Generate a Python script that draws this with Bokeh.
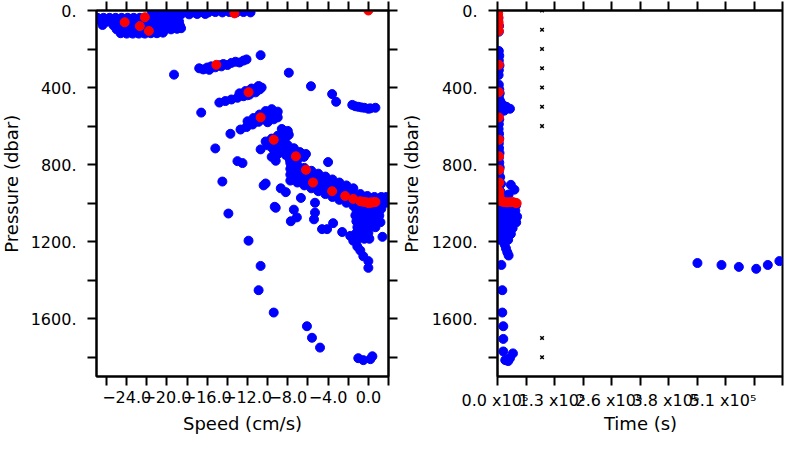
import math
from bokeh.plotting import figure
from bokeh.layouts import row, column
from bokeh.models import Range1d, FixedTicker, LinearAxis
from bokeh.core.properties import value
from bokeh.embed import file_html
from bokeh.resources import INLINE

# ---------------- data ----------------
blue_top = [
    (-26.9, 38), (-26.3, 38), (-25.7, 38), (-25.1, 38), (-24.5, 38), (-23.9, 38), (-23.3, 38),
    (-22.7, 38), (-22.1, 38), (-21.5, 38), (-20.9, 38), (-20.3, 38), (-19.7, 38), (-19.1, 38),
    (-26.5, 58), (-25.9, 58), (-25.3, 58), (-24.7, 58), (-24.1, 58), (-23.5, 58), (-22.9, 58),
    (-22.3, 58), (-21.7, 58), (-21.1, 58), (-20.5, 58), (-19.9, 58), (-19.3, 58), (-18.8, 58),
    (-26.4, 75), (-25.3, 78), (-24.7, 78), (-24.1, 78), (-23.5, 78), (-22.9, 78), (-22.3, 78),
    (-21.7, 78), (-21.1, 78), (-20.5, 78), (-19.9, 78), (-19.3, 78), (-18.7, 80),
    (-25.0, 98), (-24.4, 98), (-23.8, 98), (-23.2, 98), (-22.6, 98), (-22.0, 98), (-21.4, 98),
    (-20.8, 98), (-20.2, 98), (-19.6, 98), (-19.0, 95), (-18.6, 92),
    (-24.6, 118), (-24.0, 120), (-23.4, 120), (-22.8, 120), (-22.2, 120), (-21.6, 118),
    (-21.0, 118), (-20.4, 115),
    (-21.5, 10), (-20.8, 8), (-20.1, 10), (-19.4, 8), (-18.7, 10), (-18.0, 8), (-17.3, 10),
    (-16.6, 8), (-15.9, 10), (-15.2, 8), (-14.5, 10), (-13.8, 8), (-13.1, 10), (-12.4, 8),
    (-11.7, 10), (-21.0, 22), (-20.2, 20), (-19.4, 22), (-18.6, 20), (-17.8, 20), (-17.0, 18),
    (-16.2, 18),
]
blue_300 = [
    (-16.8, 300), (-16.4, 306), (-16.0, 296), (-15.6, 290), (-15.2, 295), (-14.8, 284),
    (-14.4, 278), (-14.0, 283), (-13.6, 272), (-13.2, 266), (-12.8, 270), (-12.4, 260),
    (-12.1, 254), (-15.8, 308), (-14.6, 290),
]
blue_420 = [
    (-14.8, 478), (-14.2, 470), (-13.6, 462), (-13.0, 453), (-12.4, 445), (-11.8, 437),
    (-11.2, 425), (-10.8, 410), (-11.0, 398), (-11.6, 405), (-12.2, 418), (-12.8, 430),
    (-12.0, 440), (-11.4, 415), (-10.6, 400), (-10.9, 392),
]
blue_550 = [
    (-12.7, 618), (-12.1, 605), (-11.5, 592), (-10.9, 578), (-10.3, 565), (-9.7, 552),
    (-9.1, 540), (-9.0, 525), (-9.6, 512), (-10.2, 522), (-10.8, 540), (-11.4, 558),
    (-12.0, 575), (-10.0, 580), (-9.4, 565), (-9.0, 555),
]
blue_700 = [
    (-8.6, 615), (-8.0, 625), (-8.4, 640), (-9.0, 650), (-9.6, 665), (-10.2, 680), (-9.0, 670),
    (-8.2, 660), (-7.9, 645), (-8.6, 685), (-9.4, 695), (-10.0, 700), (-8.0, 700), (-7.4, 715),
    (-8.2, 720), (-9.0, 725), (-9.5, 715), (-6.8, 735), (-7.4, 745), (-8.2, 750), (-9.0, 745),
    (-6.4, 760), (-7.0, 770), (-7.8, 775), (-6.2, 745), (-9.6, 760), (-9.2, 780),
]
blue_band = [
    (-7.75, 792), (-7.75, 822), (-7.75, 852), (-7.75, 883),
    (-7.05, 802), (-7.05, 832), (-7.05, 862), (-7.05, 893),
    (-6.36, 817), (-6.36, 847), (-6.36, 877), (-6.36, 908),
    (-5.66, 832), (-5.66, 862), (-5.66, 893), (-5.66, 923),
    (-4.97, 847), (-4.97, 877), (-4.97, 908), (-4.97, 938),
    (-4.27, 862), (-4.27, 893), (-4.27, 923), (-4.27, 953),
    (-3.57, 877), (-3.57, 908), (-3.57, 938), (-3.57, 968),
    (-2.88, 893), (-2.88, 923), (-2.88, 953), (-2.88, 983),
    (-2.18, 908), (-2.18, 938), (-2.18, 968), (-2.18, 998),
    (-1.49, 923), (-1.49, 953), (-1.49, 983), (-1.49, 1014),
    (-0.79, 953), (-0.79, 983), (-0.79, 1014),
    (-0.10, 963), (-0.10, 993), (-0.10, 1024),
    (0.60, 968), (0.60, 998), (0.60, 1029),
    (1.29, 968), (1.29, 998), (1.29, 1029),
    (1.79, 968), (1.79, 998),
]
blue_deep = [
    (-1.19, 1034), (-0.60, 1034), (0.00, 1034), (0.60, 1034), (1.09, 1034),
    (-1.29, 1064), (-0.70, 1064), (-0.10, 1064), (0.50, 1064), (1.09, 1064),
    (-1.19, 1094), (-0.60, 1094), (0.00, 1094), (0.60, 1094),
    (-1.09, 1125), (-0.50, 1125), (0.10, 1125), (0.70, 1125),
    (-1.19, 1155), (-0.60, 1155), (0.00, 1155),
    (-0.99, 1185), (-0.40, 1185), (0.10, 1185),
]
blue_strays = [
    (-10.7, 232), (-19.3, 333), (-7.9, 323), (-5.7, 393), (-3.6, 434), (-3.2, 474),
    (-1.6, 490), (-1.3, 497), (-1.0, 500), (-0.7, 503), (-0.4, 505), (0.0, 510), (0.2, 508),
    (0.7, 505), (-16.6, 530), (-13.7, 640), (-15.2, 716), (-10.7, 721), (-9.5, 716),
    (-13.0, 782), (-12.5, 792), (-14.5, 888), (-4.0, 787),
    (-10.4, 908), (-10.2, 898), (-8.7, 923), (-8.2, 943), (-9.3, 1019), (-9.2, 1024),
    (-7.4, 1034), (-7.7, 1094), (-7.1, 1074), (-6.7, 973), (-5.3, 998), (-5.3, 1049),
    (-5.4, 1084), (-4.6, 1135), (-4.1, 1135), (-3.5, 1104), (-2.6, 1150), (-1.8, 1170),
    (-1.5, 1195), (-1.1, 1225), (-0.8, 1246), (-0.5, 1276), (0.0, 1301), (0.0, 1336),
    (1.4, 1175), (1.2, 1099), (1.5, 993),
    (-13.9, 1054), (-11.9, 1195), (-10.7, 1326), (-10.9, 1452), (-9.4, 1568),
    (-6.1, 1639), (-5.6, 1699), (-4.8, 1750),
    (-1.0, 1805), (-0.5, 1815), (0.2, 1810), (0.4, 1795),
]

red_speed = [0.0, -13.3, -22.2, -24.2, -22.7, -21.8, -15.1, -11.9, -10.7, -9.4, -7.2, -6.2,
             -5.5, -3.6, -2.3, -1.5, -0.8, -0.5, -0.2, 0.2, 0.5, 0.7, 0.3, 0.0]
red_pressure = [0, 15, 35, 61, 81, 106, 282, 424, 555, 671, 757, 827,
                893, 938, 963, 978, 990, 993, 995, 996, 995, 994, 998, 1000]
red_time = [1000, 1500, 2000, 2500, 2500, 3000, 3000, 3000, 3000, 3500, 3500, 4000,
            4000, 4000, 4500, 5000, 8000, 12000, 17000, 22000, 28000, 34000, 40000, 43000]

time_blue = [
    (2000, 40), (3500, 80), (3000, 110),
    (3000, 210), (4000, 235), (3000, 260), (4500, 285), (3000, 310), (2500, 335),
    (3000, 385), (4000, 410), (5000, 430), (3000, 450), (6000, 470),
    (12000, 490), (20000, 500), (28000, 510), (15000, 520), (9000, 500),
    (3000, 540), (4000, 565), (3000, 590), (2500, 615), (3500, 640), (4000, 665),
    (3000, 690), (3500, 715), (4500, 740), (3000, 765), (4000, 790), (5000, 815),
    (3000, 840), (6000, 865), (4000, 885), (8000, 900), (3000, 920), (7000, 940),
    (5000, 955), (10000, 965), (4000, 975), (30000, 905), (38000, 930), (25000, 955),
    (15000, 975),
    (3000, 1010), (12000, 1010), (22000, 1010), (32000, 1010), (42000, 1010),
    (3000, 1040), (10000, 1040), (20000, 1040), (30000, 1040), (40000, 1040),
    (3000, 1070), (12000, 1070), (22000, 1070), (32000, 1070), (44000, 1070),
    (3000, 1100), (10000, 1100), (20000, 1100), (30000, 1100), (42000, 1100),
    (4000, 1130), (12000, 1130), (22000, 1130), (34000, 1130),
    (4000, 1160), (12000, 1160), (22000, 1160), (30000, 1160),
    (5000, 1190), (14000, 1190), (24000, 1190),
    (16000, 1215), (19000, 1235), (22000, 1255), (25000, 1272),
    (8700, 1321), (10800, 1452), (10800, 1568), (13000, 1639), (13000, 1705),
    (13000, 1770), (17400, 1815), (23900, 1820), (34700, 1780), (28000, 1805),
    (449000, 1311), (503000, 1321), (542000, 1331), (581000, 1341), (607000, 1321),
    (633000, 1301),
]

cross_time = [100000] * 9
cross_pressure = [0, 100, 200, 300, 400, 500, 600, 1700, 1800]

pressure_ticks = [0, 400, 800, 1200, 1600]
pressure_minor = [200, 600, 1000, 1400, 1800]
pressure_labels = ["0.", "400.", "800.", "1200.", "1600."]
speed_ticks = [-24, -20, -16, -12, -8, -4, 0]
speed_minor = [-26, -22, -18, -14, -10, -6, -2, 2]
speed_labels = ["\u221224.0", "\u221220.0", "\u221216.0", "\u221212.0", "\u22128.0", "\u22124.0", "0.0"]
time_ticks = [0, 128000, 256000, 384000, 512000]
time_minor = [64000, 192000, 320000, 448000, 576000, 640000]
time_labels = ["0.0  x10\u2075", "1.3  x10\u2075", "2.6  x10\u2075", "3.8  x10\u2075", "5.1  x10\u2075"]
x_titles = ["Speed (cm/s)", "Time (s)"]
y_title = "Pressure (dbar)"

FONT = "DejaVu Sans"
BLUE = "#0000ff"
RED = "#ff0000"
MAIN_H = 412      # height of the two plot panels
TITLE_H = 22      # strip with the x-axis titles below them
STRIP_W = 22      # strips with the y-axis titles


def style_axis(ax, standoff):
    ax.axis_line_color = "black"
    ax.axis_line_width = 2
    ax.major_tick_line_color = "black"
    ax.minor_tick_line_color = "black"
    ax.major_tick_line_width = 2
    ax.minor_tick_line_width = 2
    ax.major_tick_out = 9
    ax.major_tick_in = 0
    ax.minor_tick_out = 9
    ax.minor_tick_in = 0
    ax.major_label_text_font = FONT
    ax.major_label_text_font_size = "16px"
    ax.major_label_text_color = "black"
    ax.major_label_standoff = standoff


def ticks_only(ax, ticks):
    style_axis(ax, 0)
    ax.major_label_overrides = {t: "" for t in ticks}
    ax.major_label_text_font_size = "1px"


def blank_fig(width, height):
    f = figure(width=width, height=height, output_backend="svg", toolbar_location=None,
               x_range=Range1d(0, width), y_range=Range1d(0, height),
               x_axis_type=None, y_axis_type=None, min_border=0)
    f.grid.visible = False
    f.outline_line_color = None
    f.background_fill_color = "white"
    f.border_fill_color = "white"
    return f


def y_title_strip():
    f = blank_fig(STRIP_W, MAIN_H)
    f.text(x=[STRIP_W / 2], y=[MAIN_H - 195], text=[y_title], angle=math.pi / 2,
           text_font=value(FONT), text_font_size="18px", text_color="black",
           text_align="center", text_baseline="middle")
    return f


def make_fig(width, xr, border_left, border_right):
    p = figure(width=width, height=MAIN_H, output_backend="svg", toolbar_location=None,
               x_range=xr, y_range=Range1d(1900, 0),
               min_border_left=border_left, min_border_right=border_right,
               min_border_top=10, min_border_bottom=32)
    p.grid.visible = False
    p.outline_line_color = "black"
    p.outline_line_width = 2
    p.background_fill_color = "white"
    p.border_fill_color = "white"
    return p


# ---------------- left panel ----------------
p1 = make_fig(378, Range1d(-27, 2), 74, 12)
blue_left = blue_top + blue_300 + blue_420 + blue_550 + blue_700 + blue_band + blue_deep + blue_strays
p1.scatter([b[0] for b in blue_left], [b[1] for b in blue_left], size=9,
           fill_color=BLUE, line_color=BLUE)
p1.scatter(red_speed, red_pressure, size=9, fill_color=RED, line_color=RED)

p1.xaxis.ticker = FixedTicker(ticks=speed_ticks, minor_ticks=speed_minor)
p1.xaxis.major_label_overrides = dict(zip(speed_ticks, speed_labels))
style_axis(p1.xaxis[0], 5)
p1.yaxis.ticker = FixedTicker(ticks=pressure_ticks, minor_ticks=pressure_minor)
p1.yaxis.major_label_overrides = dict(zip(pressure_ticks, pressure_labels))
style_axis(p1.yaxis[0], 11)

ax = LinearAxis(ticker=FixedTicker(ticks=pressure_ticks, minor_ticks=pressure_minor))
ticks_only(ax, pressure_ticks)
p1.add_layout(ax, "right")
ax = LinearAxis(ticker=FixedTicker(ticks=speed_ticks, minor_ticks=speed_minor))
ticks_only(ax, speed_ticks)
p1.add_layout(ax, "above")

# ---------------- right panel ----------------
p2 = make_fig(362, Range1d(0, 640000), 75, 2)
p2.scatter([b[0] for b in time_blue], [b[1] for b in time_blue], size=9,
           fill_color=BLUE, line_color=BLUE)
p2.scatter(red_time, red_pressure, size=9, fill_color=RED, line_color=RED)
p2.scatter(cross_time, cross_pressure, marker="x", size=5, line_color="black", line_width=1.5)

p2.xaxis.ticker = FixedTicker(ticks=time_ticks, minor_ticks=time_minor)
p2.xaxis.major_label_overrides = dict(zip(time_ticks, time_labels))
style_axis(p2.xaxis[0], 5)
p2.yaxis.ticker = FixedTicker(ticks=pressure_ticks, minor_ticks=pressure_minor)
p2.yaxis.major_label_overrides = dict(zip(pressure_ticks, pressure_labels))
style_axis(p2.yaxis[0], 11)

ax = LinearAxis(ticker=FixedTicker(ticks=time_ticks, minor_ticks=time_minor))
ticks_only(ax, time_ticks)
p2.add_layout(ax, "above")

# ---------------- axis titles ----------------
left_strip = y_title_strip()
mid_strip = y_title_strip()
bottom_strip = blank_fig(784, TITLE_H)
bottom_strip.text(x=[242, 640], y=[TITLE_H / 2, TITLE_H / 2], text=x_titles,
                  text_font=value(FONT), text_font_size="18px", text_color="black",
                  text_align="center", text_baseline="middle")

layout = column(row(left_strip, p1, mid_strip, p2), bottom_strip)
open("out.html", "w").write(file_html(layout, INLINE))
